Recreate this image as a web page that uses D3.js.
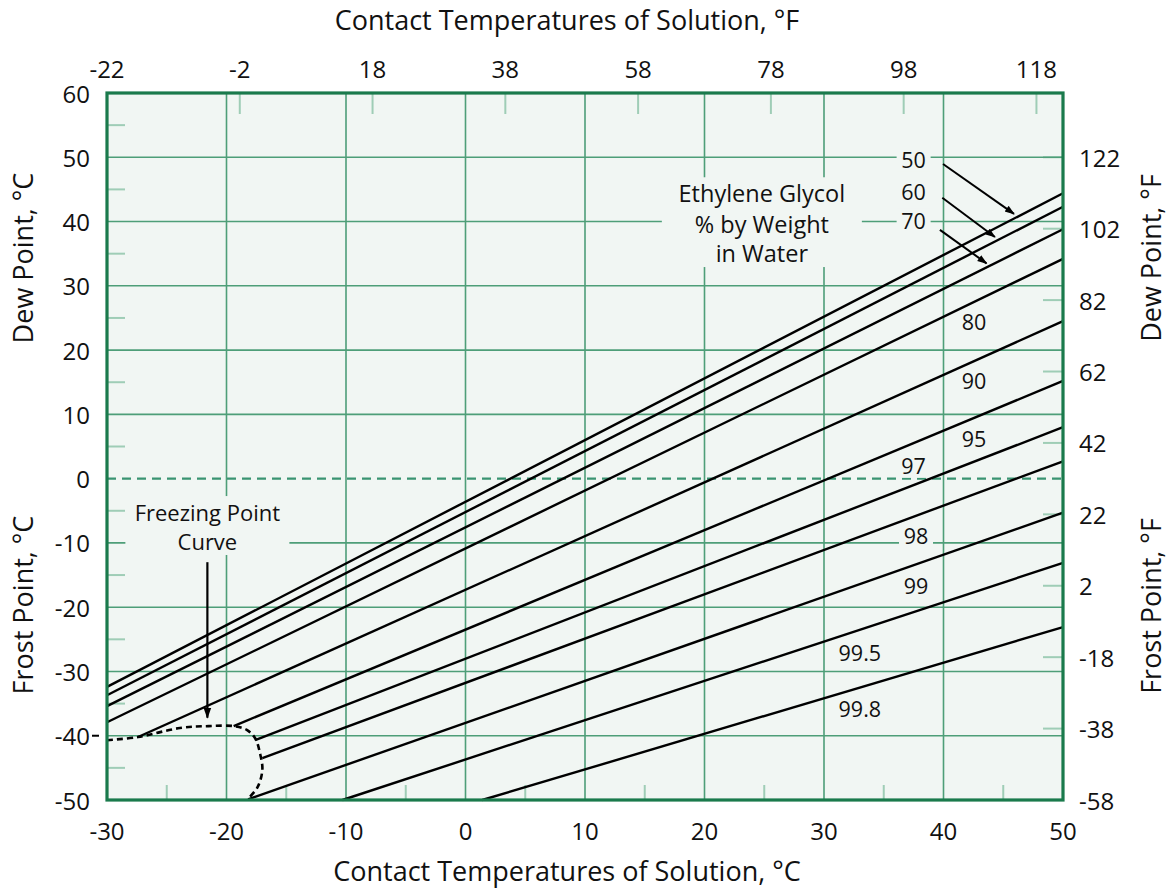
<!DOCTYPE html>
<html><head><meta charset="utf-8">
<script src="https://cdn.jsdelivr.net/npm/d3@7"></script>
<style>body{margin:0;background:#fff}svg{display:block}text{font-family:"Open Sans",sans-serif;fill:#111}</style>
</head><body><svg id="c" width="1173" height="888"></svg>
<script>
// ---- data ----
const seriesNames = ["50","60","70","80","90","95","97","98","99","99.5","99.8"];
const startX = [-30,-30,-30,-30,-27.4,-19.4,-17.6,-17.0,-18.2,-10.3,1.4];
const startY = [-32.4,-33.7,-35.4,-37.9,-40.2,-38.5,-40.7,-43.5,-49.9,-50,-50];
const endX   = [50,50,50,50,50,50,50,50,50,50,50];
const endY   = [44.4,42.3,38.8,34.2,24.5,15.2,8.0,2.7,-5.3,-13.1,-23.1];
const labelX = [37.5,37.5,37.5,42.55,42.55,42.55,37.5,37.7,37.7,33.0,33.0];
const labelY = [49.6,44.75,40.1,24.5,15.2,6.3,2.0,-8.8,-16.7,-27.0,-35.7];
const freezeX = [-30,-27.4,-23.9,-21.5,-19.4,-18.3,-17.6,-17.2,-17.0,-17.4,-18.2];
const freezeY = [-40.7,-40.2,-38.8,-38.5,-38.5,-39.1,-40.4,-42.7,-45.3,-48.0,-49.8];
const bottomTicks = [-30,-20,-10,0,10,20,30,40,50];
const bottomMinor = [-25,-15,-5,5,15,25,35,45];
const leftTicks = [60,50,40,30,20,10,0,-10,-20,-30,-40,-50];
const leftMinor = [55,45,35,25,15,5,-5,-15,-25,-35,-45];
const topTicksF = [-22,-2,18,38,58,78,98,118];
const rightTicksF = [122,102,82,62,42,22,2,-18,-38,-58];
// arrows for 50/60/70 labels: [x1,y1,x2,y2] in °C
const arrows = [[39.96,48.95,45.9,41.2],[39.9,43.7,44.3,37.6],[39.7,38.7,43.6,33.5]];
const noteLines = ["Ethylene Glycol","% by Weight","in Water"];
const noteX = 24.8, noteY = [44.4,39.6,35.1];
const freezeText = ["Freezing Point","Curve"];
const freezeTextX = -21.6, freezeTextY = [-5.2,-9.7];
const freezeArrow = [-21.6,-13.0,-21.6,-37.2];

// ---- layout ----
const L=107,R=1063,T=93,B=800;
const x = d3.scaleLinear().domain([-30,50]).range([L,R]);
const y = d3.scaleLinear().domain([-50,60]).range([B,T]);
const f2c = f => (f-32)*5/9;
const svg = d3.select("#c");
const GRID="#4e9e78", BORDER="#1a7a4c", MINOR="#9fcdb6", BG="#f1f6f3";

svg.append("defs").append("marker").attr("id","ah").attr("viewBox","0 0 10 10")
  .attr("refX",9).attr("refY",5).attr("markerWidth",5).attr("markerHeight",5)
  .attr("orient","auto").append("path").attr("d","M0,1.5 L10,5 L0,8.5 Z").attr("fill","#000");

svg.append("rect").attr("x",L).attr("y",T).attr("width",R-L).attr("height",B-T).attr("fill",BG);

// minor ticks
const g = svg.append("g");
g.selectAll(".bm").data(bottomMinor).join("line").attr("x1",d=>x(d)).attr("x2",d=>x(d))
  .attr("y1",B).attr("y2",B-15).attr("stroke",MINOR).attr("stroke-width",2);
g.selectAll(".lm").data(leftMinor).join("line").attr("x1",L).attr("x2",L+18)
  .attr("y1",d=>y(d)).attr("y2",d=>y(d)).attr("stroke",MINOR).attr("stroke-width",2);
g.selectAll(".tm").data(topTicksF).join("line").attr("x1",d=>x(f2c(d))).attr("x2",d=>x(f2c(d)))
  .attr("y1",T).attr("y2",T+21).attr("stroke",MINOR).attr("stroke-width",2);
g.selectAll(".rm").data(rightTicksF).join("line").attr("x1",R).attr("x2",R-20)
  .attr("y1",d=>y(f2c(d))).attr("y2",d=>y(f2c(d))).attr("stroke",MINOR).attr("stroke-width",2);

// grid
g.selectAll(".vg").data(bottomTicks.filter(d=>d>-30&&d<50)).join("line")
  .attr("x1",d=>x(d)).attr("x2",d=>x(d)).attr("y1",T).attr("y2",B).attr("stroke",GRID).attr("stroke-width",1.6);
g.selectAll(".hg").data(leftTicks.filter(d=>d<60&&d>-50&&d!==0)).join("line")
  .attr("x1",L).attr("x2",R).attr("y1",d=>y(d)).attr("y2",d=>y(d)).attr("stroke",GRID).attr("stroke-width",1.6);
g.append("line").attr("x1",L).attr("x2",R).attr("y1",y(0)).attr("y2",y(0))
  .attr("stroke","#3a9472").attr("stroke-width",2.2).attr("stroke-dasharray","9,6");

// label backgrounds (break gridlines)
const lbl = svg.append("g");
seriesNames.forEach((s,i)=>{
  const w = s.length*12+10;
  lbl.append("rect").attr("x",x(labelX[i])-w/2).attr("y",y(labelY[i])-12).attr("width",w).attr("height",24).attr("fill",BG);
});
lbl.append("rect").attr("x",x(noteX)-100).attr("y",y(noteY[0])-16).attr("width",200).attr("height",y(noteY[2])-y(noteY[0])+30).attr("fill",BG);
lbl.append("rect").attr("x",x(freezeTextX)-82).attr("y",y(freezeTextY[0])-16).attr("width",164).attr("height",y(freezeTextY[1])-y(freezeTextY[0])+30).attr("fill",BG);

// series lines
svg.append("g").selectAll("line").data(seriesNames).join("line")
  .attr("x1",(d,i)=>x(startX[i])).attr("y1",(d,i)=>y(startY[i]))
  .attr("x2",(d,i)=>x(endX[i])).attr("y2",(d,i)=>y(endY[i]))
  .attr("stroke","#000").attr("stroke-width",2.4);

// freezing curve
const fz = freezeX.map((v,i)=>[v,freezeY[i]]);
svg.append("path").attr("d",d3.line().x(d=>x(d[0])).y(d=>y(d[1])).curve(d3.curveCatmullRom)(fz))
  .attr("fill","none").attr("stroke","#000").attr("stroke-width",2.6).attr("stroke-dasharray","6,4");

// series labels
svg.append("g").selectAll("text").data(seriesNames).join("text")
  .attr("x",(d,i)=>x(labelX[i])).attr("y",(d,i)=>y(labelY[i])).attr("text-anchor","middle")
  .attr("dominant-baseline","central").attr("font-size",21.5).text(d=>d);

// arrows
svg.append("g").selectAll("line").data(arrows).join("line")
  .attr("x1",d=>x(d[0])).attr("y1",d=>y(d[1])).attr("x2",d=>x(d[2])).attr("y2",d=>y(d[3]))
  .attr("stroke","#000").attr("stroke-width",2).attr("marker-end","url(#ah)");
svg.append("line").attr("x1",x(freezeArrow[0])).attr("y1",y(freezeArrow[1]))
  .attr("x2",x(freezeArrow[2])).attr("y2",y(freezeArrow[3]))
  .attr("stroke","#000").attr("stroke-width",2.2).attr("marker-end","url(#ah)");

// notes
svg.append("g").selectAll("text").data(noteLines).join("text")
  .attr("x",x(noteX)).attr("y",(d,i)=>y(noteY[i])).attr("text-anchor","middle")
  .attr("dominant-baseline","central").attr("font-size",23.5).text(d=>d);
svg.append("g").selectAll("text").data(freezeText).join("text")
  .attr("x",x(freezeTextX)).attr("y",(d,i)=>y(freezeTextY[i])).attr("text-anchor","middle")
  .attr("dominant-baseline","central").attr("font-size",22).text(d=>d);

// border
svg.append("rect").attr("x",L).attr("y",T).attr("width",R-L).attr("height",B-T)
  .attr("fill","none").attr("stroke",BORDER).attr("stroke-width",3.2);

// axes labels
const FS=24, TS=27;
svg.append("g").selectAll("text").data(bottomTicks).join("text")
  .attr("x",d=>x(d)).attr("y",B+30).attr("text-anchor","middle").attr("dominant-baseline","central")
  .attr("font-size",FS).text(d=>d);
svg.append("g").selectAll("text").data(leftTicks).join("text")
  .attr("x",L-17).attr("y",d=>y(d)).attr("text-anchor","end").attr("dominant-baseline","central")
  .attr("font-size",FS).text(d=>d);
svg.append("line").attr("x1",L-15).attr("x2",L-8).attr("y1",y(-40)).attr("y2",y(-40)).attr("stroke","#000").attr("stroke-width",2);
svg.append("g").selectAll("text").data(topTicksF).join("text")
  .attr("x",d=>x(f2c(d))).attr("y",T-25).attr("text-anchor","middle").attr("dominant-baseline","central")
  .attr("font-size",FS).text(d=>d);
svg.append("g").selectAll("text").data(rightTicksF).join("text")
  .attr("x",R+16).attr("y",d=>y(f2c(d))).attr("text-anchor","start").attr("dominant-baseline","central")
  .attr("font-size",FS).text(d=>d);

// titles
svg.append("text").attr("x",567).attr("y",19).attr("text-anchor","middle").attr("dominant-baseline","central")
  .attr("font-size",TS).text("Contact Temperatures of Solution, °F");
svg.append("text").attr("x",567).attr("y",870).attr("text-anchor","middle").attr("dominant-baseline","central")
  .attr("font-size",TS).text("Contact Temperatures of Solution, °C");
function vtitle(t,cx,cy){
  svg.append("text").attr("transform",`translate(${cx},${cy}) rotate(-90)`).attr("text-anchor","middle")
    .attr("dominant-baseline","central").attr("font-size",TS).text(t);
}
vtitle("Dew Point, °C",22,258);
vtitle("Frost Point, °C",22,605);
vtitle("Dew Point, °F",1150,258);
vtitle("Frost Point, °F",1150,606);
</script></body></html>
